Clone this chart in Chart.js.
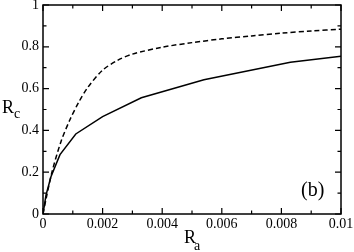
<!DOCTYPE html>
<html>
<head>
<meta charset="utf-8">
<script src="https://cdn.jsdelivr.net/npm/chart.js@4/dist/chart.umd.min.js"></script>
<style>
  html, body { margin: 0; padding: 0; background: #fff; }
  #wrap { width: 354px; height: 252px; }
</style>
</head>
<body>
<div id="wrap"><canvas id="myChart"></canvas></div>
<script>
// solid curve
const solidX = [0, 0.0001, 0.00027, 0.00057, 0.0011, 0.002, 0.0033, 0.0054, 0.0083, 0.01];
const solidY = [0, 0.09, 0.18, 0.284, 0.383, 0.466, 0.556, 0.642, 0.726, 0.755];
// dashed curve
const dashedX = [0, 0.0001, 0.0003, 0.0006, 0.0009, 0.0012, 0.0015, 0.002, 0.0025, 0.003, 0.004, 0.005, 0.006, 0.007, 0.008, 0.009, 0.01];
const dashedY = [0, 0.07, 0.2, 0.345, 0.45, 0.535, 0.605, 0.688, 0.735, 0.765, 0.798, 0.82, 0.838, 0.852, 0.865, 0.876, 0.884];

const FONT = '"Liberation Serif", "Times New Roman", serif';

function pts(xs, ys) {
  let out = [];
  for (let i = 0; i < xs.length; i++) out.push({x: xs[i], y: ys[i]});
  return out;
}

// frame, inward ticks on all sides, axis titles with subscripts
const framePlugin = {
  id: 'frame',
  afterDraw(chart) {
    const ctx = chart.ctx;
    const a = chart.chartArea;
    const sx = chart.scales.x, sy = chart.scales.y;
    ctx.save();
    ctx.strokeStyle = '#000';
    ctx.lineWidth = 1.5;
    ctx.strokeRect(a.left, a.top, a.right - a.left, a.bottom - a.top);
    ctx.lineWidth = 1.2;
    ctx.beginPath();
    for (let i = 0; i <= 10; i++) {
      const px = sx.getPixelForValue(i * 0.001);
      const len = i % 2 == 0 ? 6 : 3.5;
      ctx.moveTo(px, a.bottom); ctx.lineTo(px, a.bottom - len);
      ctx.moveTo(px, a.top); ctx.lineTo(px, a.top + len);
    }
    for (let i = 0; i <= 10; i++) {
      const py = sy.getPixelForValue(i * 0.1);
      const len = i % 2 == 0 ? 6 : 3.5;
      ctx.moveTo(a.left, py); ctx.lineTo(a.left + len, py);
      ctx.moveTo(a.right, py); ctx.lineTo(a.right - len, py);
    }
    ctx.stroke();

    ctx.fillStyle = '#000';
    ctx.textAlign = 'left';
    ctx.textBaseline = 'alphabetic';
    ctx.font = '18px ' + FONT;
    ctx.fillText('R', 184, 243);
    ctx.fillText('R', 2, 113);
    ctx.font = '20px ' + FONT;
    ctx.fillText('(b)', 301, 196);
    ctx.font = '14px ' + FONT;
    ctx.fillText('a', 194, 250);
    ctx.fillText('c', 14, 118);
    ctx.restore();
  }
};

const config = {
  type: 'scatter',
  data: {
    datasets: [{
      data: pts(solidX, solidY),
      showLine: true,
      borderColor: '#000',
      borderWidth: 1.5,
      pointRadius: 0,
      tension: 0
    }, {
      data: pts(dashedX, dashedY),
      showLine: true,
      borderColor: '#000',
      borderWidth: 1.5,
      borderDash: [5, 3],
      pointRadius: 0,
      tension: 0.3
    }]
  },
  options: {
    responsive: true,
    maintainAspectRatio: false,
    animation: false,
    layout: { padding: { top: 5, right: 13, left: 0, bottom: 0 } },
    plugins: { legend: { display: false }, tooltip: { enabled: false } },
    scales: {
      x: {
        type: 'linear', min: 0, max: 0.01,
        grid: { display: false, drawTicks: false, tickLength: 0 },
        border: { display: false },
        ticks: {
          stepSize: 0.002, color: '#000', padding: 2,
          font: { family: FONT, size: 14 },
          callback: v => parseFloat(v.toFixed(4)).toString()
        },
        afterFit: s => { s.height = 38; s.paddingLeft = 0; s.paddingRight = 0; }
      },
      y: {
        type: 'linear', min: 0, max: 1,
        grid: { display: false, drawTicks: false, tickLength: 0 },
        border: { display: false },
        ticks: {
          stepSize: 0.2, color: '#000', padding: 4,
          font: { family: FONT, size: 14 },
          callback: v => parseFloat(v.toFixed(2)).toString()
        },
        afterFit: s => { s.width = 43; s.paddingTop = 0; s.paddingBottom = 0; }
      }
    }
  },
  plugins: [framePlugin]
};

new Chart(document.getElementById('myChart'), config);
</script>
</body>
</html>
